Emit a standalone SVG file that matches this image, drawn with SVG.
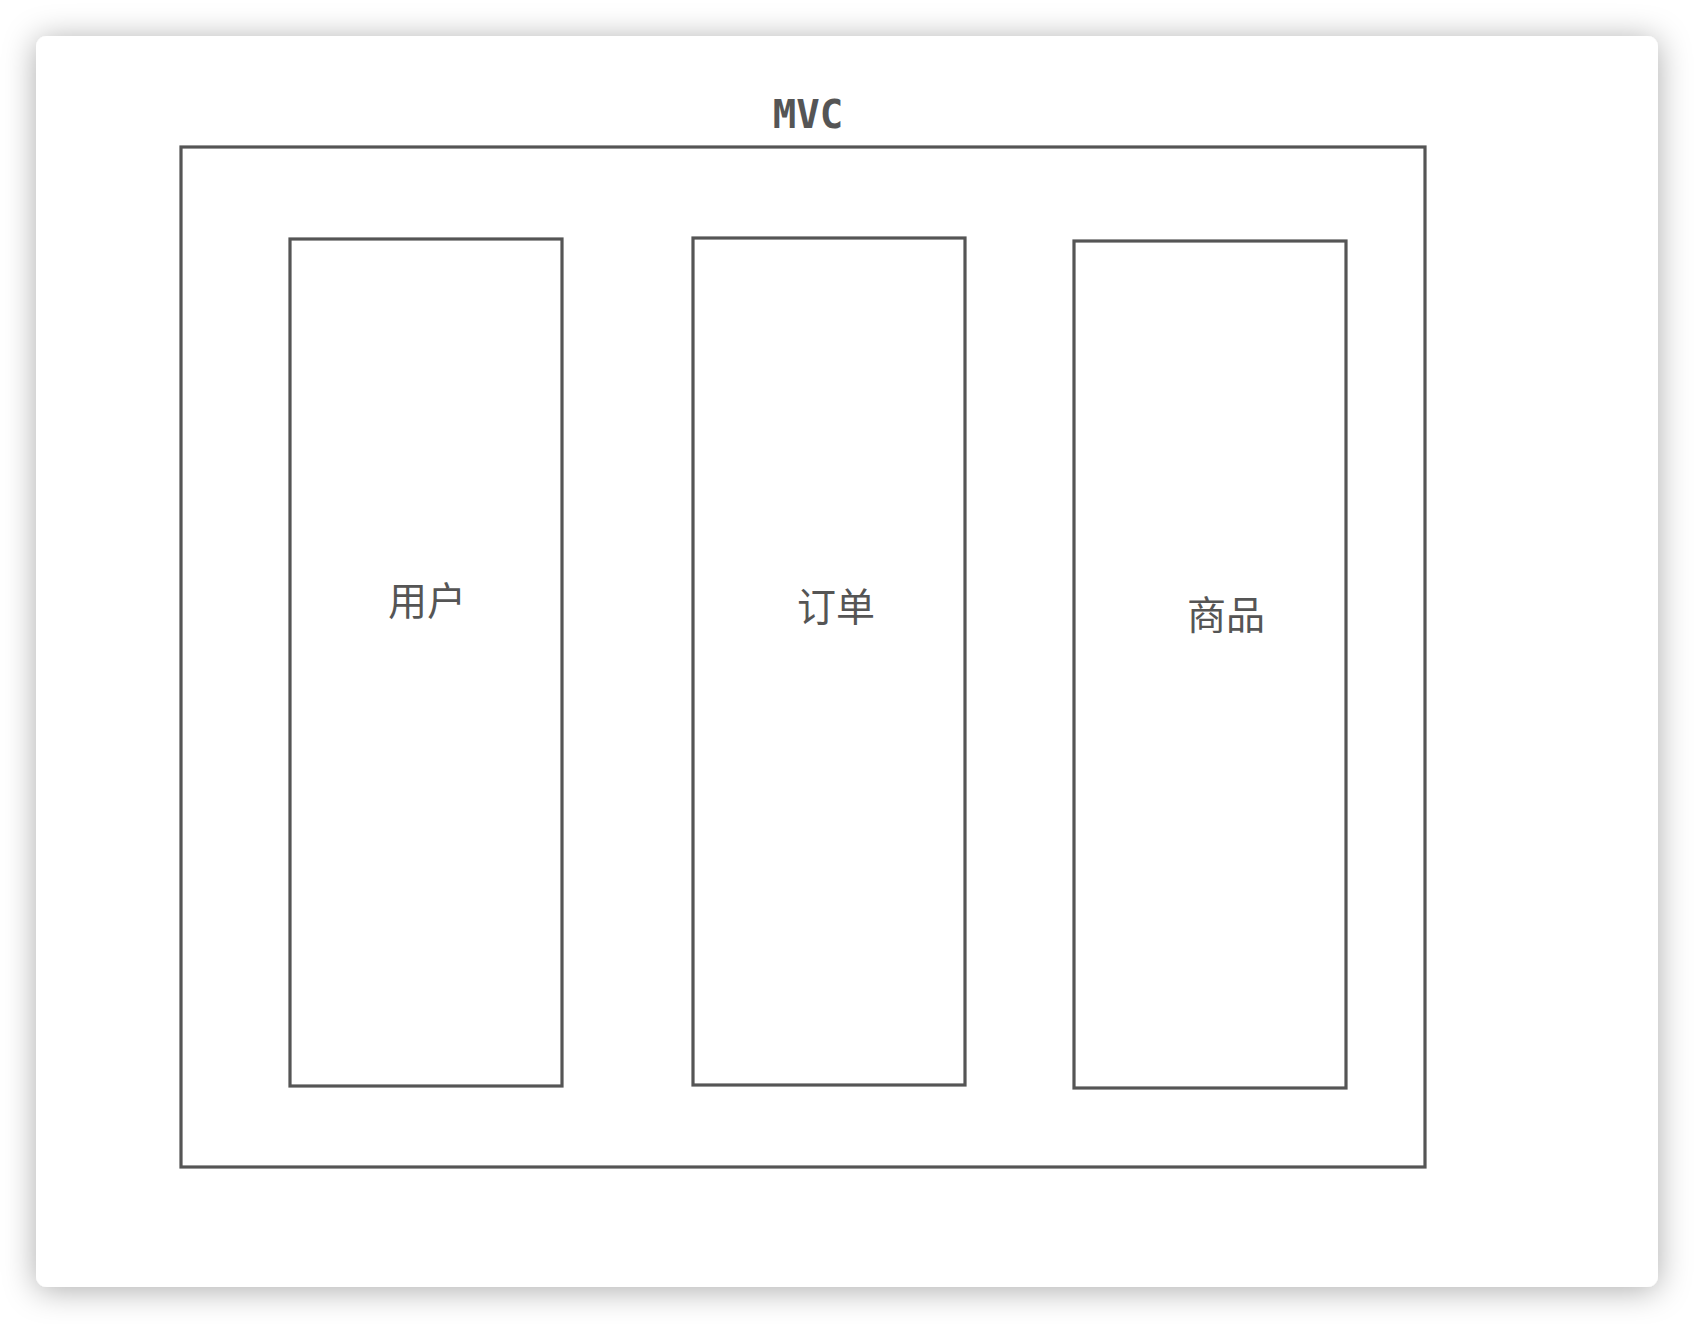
<svg xmlns="http://www.w3.org/2000/svg" width="1694" height="1324" viewBox="0 0 1694 1324">
<style>
.box{fill:none;stroke:#555555;stroke-width:3.2;stroke-linejoin:miter}
.lbl{font-family:"Noto Sans CJK SC","Noto Sans",sans-serif;font-size:39px;fill:#555555;text-anchor:middle;dominant-baseline:central}
.ttl{font-family:"DejaVu Sans Mono","Liberation Mono",monospace;font-size:39px;font-weight:bold;fill:#555555;text-anchor:middle}
</style>
<defs>
<filter id="sh" x="-10%" y="-10%" width="120%" height="120%">
<feDropShadow dx="0" dy="3" stdDeviation="16" flood-color="#000000" flood-opacity="0.33"/>
</filter>
</defs>
<rect width="1694" height="1324" fill="#ffffff"/>
<rect x="36" y="36" width="1622" height="1251" rx="11" ry="11" fill="#ffffff" filter="url(#sh)"/>
<g id="mvc">
<rect class="box" x="181" y="147" width="1244" height="1020"/>
<text class="ttl" x="808" y="128">MVC</text>
</g>
<g id="user">
<rect class="box" x="290" y="239" width="272" height="847"/>
<text class="lbl" x="427" y="598">用户</text>
</g>
<g id="order">
<rect class="box" x="693" y="238" width="272" height="847"/>
<text class="lbl" x="836" y="604">订单</text>
</g>
<g id="goods">
<rect class="box" x="1074" y="241" width="272" height="847"/>
<text class="lbl" x="1226" y="612">商品</text>
</g>
<g id="connectors"></g>
</svg>
